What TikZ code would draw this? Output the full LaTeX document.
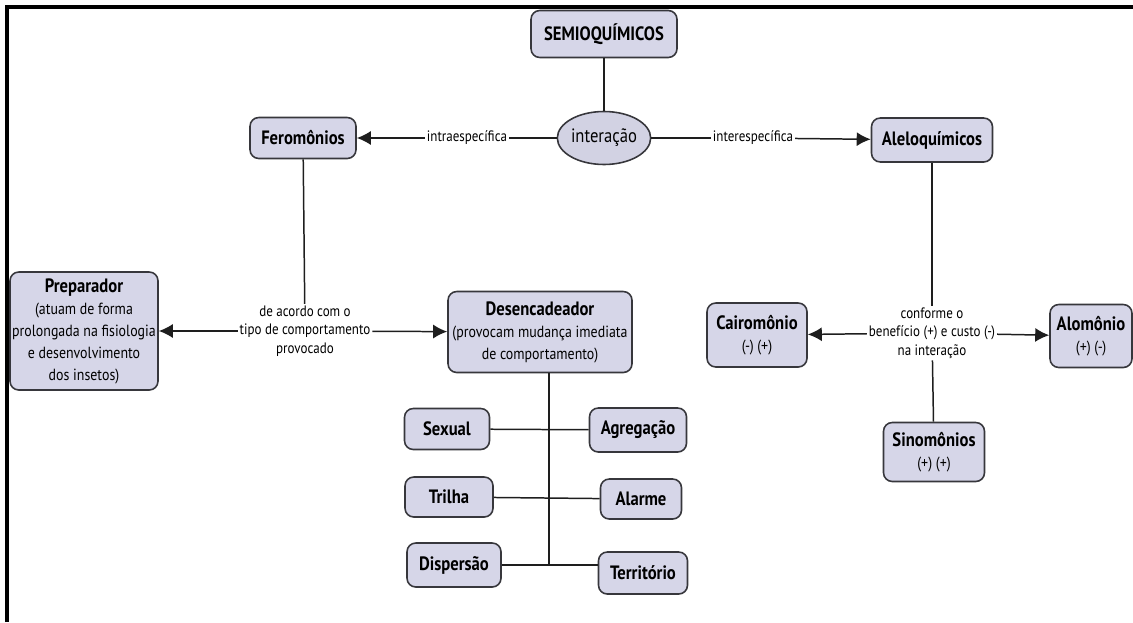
\documentclass[tikz,border=0pt]{standalone}
\usepackage{fontspec}
\setmainfont[FakeStretch=0.86]{PT Sans}
\usepackage{tikz}
\usetikzlibrary{shapes.geometric,arrows.meta}
\definecolor{ConceptFill}{RGB}{214,214,232}
\definecolor{ConceptDraw}{RGB}{55,55,60}
\definecolor{LinkGray}{RGB}{30,30,30}
\tikzstyle{concept} = [rectangle, rounded corners=5pt, inner sep=0pt, align=center, draw=ConceptDraw, fill=ConceptFill, line width=0.9pt, font=\fontsize{11}{12.5}\selectfont\bfseries]
\tikzstyle{hub} = [ellipse, inner sep=0pt, draw=ConceptDraw, fill=ConceptFill!95!gray, line width=0.9pt, font=\fontsize{11}{12.5}\selectfont]
\tikzstyle{linkword} = [fill=white, inner sep=1pt, align=center, font=\fontsize{8.6}{10.4}\selectfont]
\tikzstyle{link} = [draw=LinkGray, line width=0.85pt]
\tikzstyle{arrow} = [link, -{Latex[length=2.8mm,width=2.8mm]}]
\newcommand{\subtxt}{\fontsize{9.2}{10.6}\selectfont\mdseries}

\begin{document}
\begin{tikzpicture}
\useasboundingbox (0,0) rectangle (22.66,-12.44);
\draw[line width=2pt] (0.14,-12.44) -- (0.14,-0.14) -- (22.66,-0.14);

% Conceitos principais
\node (semio) [concept, minimum width=2.92cm, minimum height=0.94cm] at (12.08,-0.68) {SEMIOQUÍMICOS};
\node (inter) [hub, minimum width=1.76cm, minimum height=1.06cm] at (12.08,-2.76) {interação};
\node (fero) [concept, minimum width=2.12cm, minimum height=0.82cm] at (6.06,-2.76) {Feromônios};
\node (alelo) [concept, minimum width=2.42cm, minimum height=0.88cm] at (18.64,-2.80) {Aleloquímicos};

% Feromonios
\node (prep) [concept, minimum width=2.96cm, minimum height=2.36cm] at (1.68,-6.62) {Preparador\\
    \subtxt (atuam de forma\\
    \subtxt prolongada na fisiologia\\
    \subtxt e desenvolvimento\\
    \subtxt dos insetos)};
\node (desenc) [concept, minimum width=3.68cm, minimum height=1.62cm] at (10.80,-6.64) {Desencadeador\\
    \subtxt (provocam mudança imediata\\
    \subtxt de comportamento)};

\node (sexual) [concept, minimum width=1.70cm, minimum height=0.82cm] at (8.94,-8.58) {Sexual};
\node (agreg) [concept, minimum width=1.94cm, minimum height=0.88cm] at (12.76,-8.60) {Agregação};
\node (trilha) [concept, minimum width=1.76cm, minimum height=0.80cm] at (8.98,-9.94) {Trilha};
\node (alarme) [concept, minimum width=1.62cm, minimum height=0.80cm] at (12.82,-9.98) {Alarme};
\node (dispersao) [concept, minimum width=1.88cm, minimum height=0.88cm] at (9.08,-11.30) {Dispersão};
\node (territ) [concept, minimum width=1.78cm, minimum height=0.84cm] at (12.86,-11.46) {Território};
\coordinate (spine) at (10.98,-11.30);

% Aleloquimicos
\node (cairo) [concept, minimum width=2.00cm, minimum height=1.28cm] at (15.14,-6.70) {Cairomônio\\ \subtxt (-) (+)};
\node (alom) [concept, minimum width=1.64cm, minimum height=1.26cm] at (21.82,-6.72) {Alomônio\\ \subtxt (+) (-)};
\node (sinom) [concept, minimum width=2.02cm, minimum height=1.18cm] at (18.68,-9.04) {Sinomônios\\ \subtxt (+) (+)};

% Palavras de ligacao
\node (lblintra) [linkword] at (9.34,-2.76) {intraespecífica};
\node (lblinter) [linkword] at (15.06,-2.76) {interespecífica};
\node (lblcomp) [linkword] at (6.10,-6.62) {de acordo com o\\tipo de comportamento\\provocado};
\node (lblconf) [linkword] at (18.64,-6.66) {conforme o\\benefício (+) e custo (-)\\na interação};

% Relacoes
\draw [link] (semio) -- (inter);
\draw [link] (inter) -- (lblintra);
\draw [arrow] (lblintra) -- (fero);
\draw [link] (inter) -- (lblinter);
\draw [arrow] (lblinter) -- (alelo);

\draw [link] (fero) -- (lblcomp);
\draw [arrow] (lblcomp) -- (prep);
\draw [arrow] (lblcomp) -- (desenc);
\draw [link] (desenc.south -| spine) -- (spine);
\draw [link] (sexual) -- (agreg);
\draw [link] (trilha) -- (alarme);
\draw [link] (dispersao.east) -- (dispersao.east -| territ.west);

\draw [link] (alelo) -- (lblconf);
\draw [arrow] (lblconf) -- (cairo);
\draw [arrow] (lblconf) -- (alom);
\draw [link] (lblconf) -- (sinom);

\end{tikzpicture}
\end{document}
